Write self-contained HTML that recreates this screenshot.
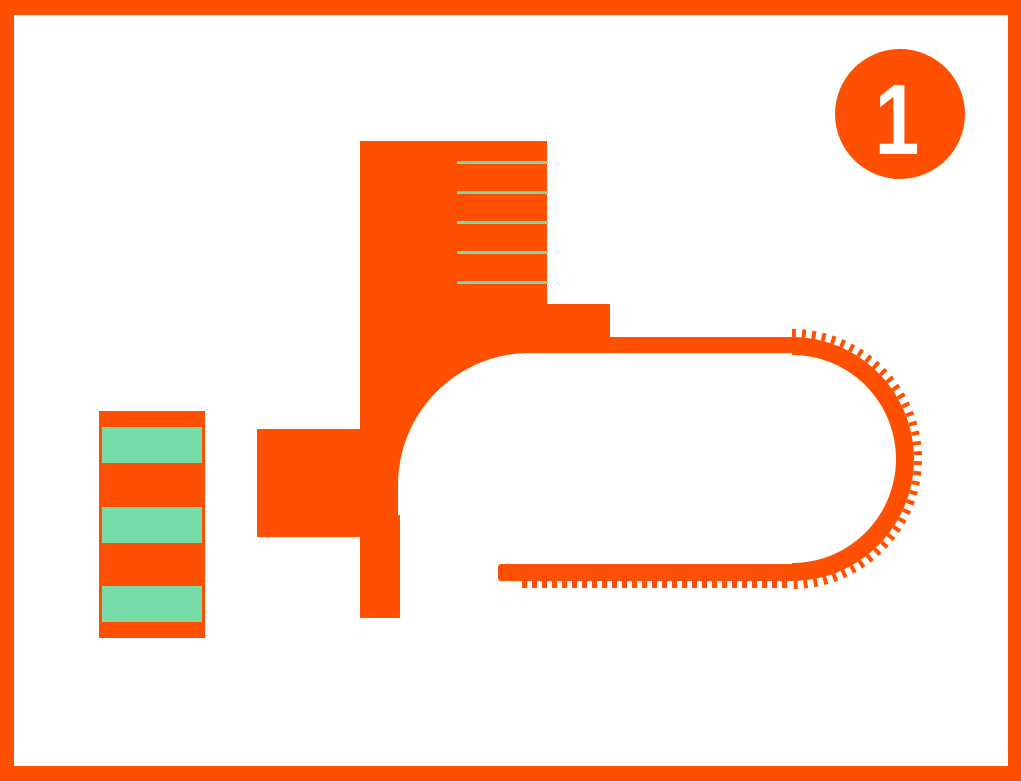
<!DOCTYPE html>
<html><head><style>html,body{margin:0;padding:0;background:#fff}svg{display:block}</style></head>
<body>
<svg width="1021" height="781" viewBox="0 0 1021 781" xmlns="http://www.w3.org/2000/svg">
<rect x="0" y="0" width="1021" height="781" fill="#fe5000"/>
<rect x="14" y="15" width="994" height="751" fill="#fff"/>
<g fill="#fe5000">
<circle cx="900" cy="114" r="65"/>
<rect x="360" y="141" width="187" height="200"/>
<rect x="547" y="304" width="63" height="37"/>
<rect x="257" y="429" width="110" height="108"/>
<rect x="360" y="515" width="40" height="103"/>
<path d="M360 337 L792 337 L792 353 L530 353 A132 132 0 0 0 398 485 L398 520 L360 520 Z"/>
<path d="M792 337 A122 122 0 0 1 792 581 L792 563 A104 104 0 0 0 792 355 Z"/>
<rect x="498" y="564" width="300" height="17" rx="3"/>
<rect x="99" y="411" width="106" height="227"/>
</g>
<path d="M792 459 m0 -126 A126 126 0 0 1 792 585" fill="none" stroke="#fe5000" stroke-width="8" stroke-dasharray="4 6"/>
<line x1="522" y1="584.5" x2="792" y2="584.5" stroke="#fe5000" stroke-width="7" stroke-dasharray="5 5"/>
<g fill="#77dca8">
<rect x="457" y="161" width="91" height="3"/>
<rect x="457" y="191" width="91" height="3"/>
<rect x="457" y="221" width="91" height="3"/>
<rect x="457" y="251" width="91" height="3"/>
<rect x="457" y="281" width="91" height="3"/>
<rect x="102" y="427" width="100" height="36"/>
<rect x="102" y="507" width="100" height="36"/>
<rect x="102" y="586" width="100" height="36"/>
</g>
<text x="0" y="0" transform="translate(897 154) scale(0.8 1)" text-anchor="middle" font-family="Liberation Sans, sans-serif" font-weight="bold" font-size="100" fill="#fff">1</text>
</svg>
</body></html>
